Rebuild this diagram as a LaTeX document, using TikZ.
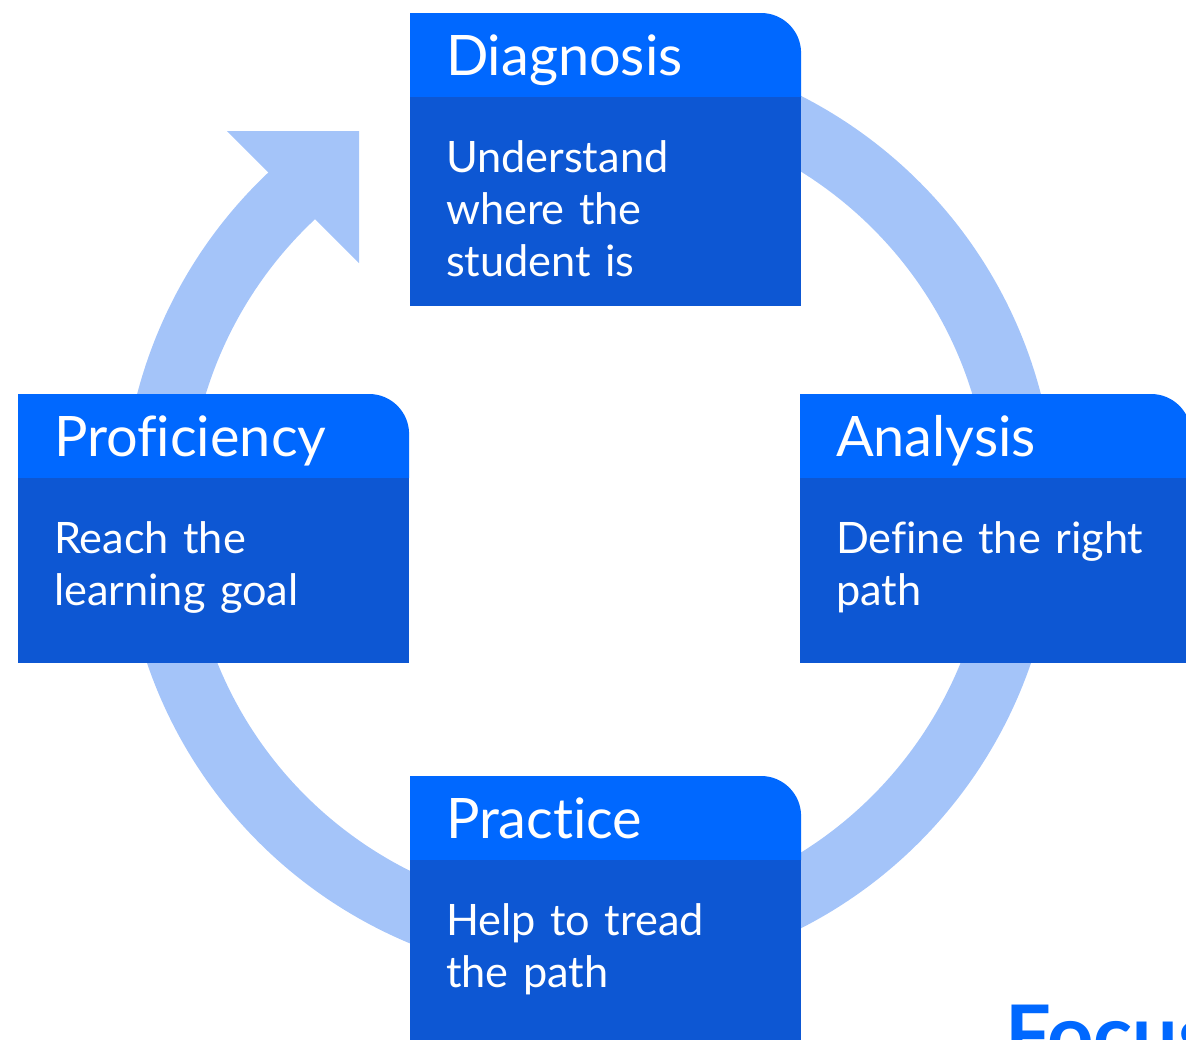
\documentclass[tikz,border=0pt]{standalone}
\usepackage{fontspec}
\setmainfont{Lato}[Ligatures=NoCommon]
\usetikzlibrary{positioning}

\definecolor{headblue}{HTML}{0068FF}
\definecolor{bodyblue}{HTML}{0D57D3}
\definecolor{ringblue}{HTML}{A4C4F9}

\tikzset{
	stagehead/.style={anchor=north west, outer sep=0pt, inner xsep=0.9cm, inner ysep=0pt,
		text width=7.975cm, text height=1.55cm, text depth=0.55cm, text=white, align=left,
		font=\fontsize{39.7}{48}\selectfont,
		path picture={\fill[headblue] (path picture bounding box.south west)
			|- ([xshift=-1cm]path picture bounding box.north east)
			arc[start angle=90, end angle=0, radius=1cm]
			-- (path picture bounding box.south east) -- cycle;}},
	stagebody/.style={below=0pt of #1, outer sep=0pt, fill=bodyblue, inner xsep=0.9cm, inner ysep=0pt,
		text width=7.975cm, text height=1.875cm, text=white, align=left,
		font=\fontsize{30.8}{37}\selectfont},
}

\begin{document}
\begin{tikzpicture}[x=0.025cm,y=-0.025cm]
		\useasboundingbox (0,0) rectangle (1186,1040);
		
		% ring with arrow
		\coordinate (ctr) at (589,512);
		\draw[ringblue, line width=1.65cm] (ctr) ++(-100:434) arc[start angle=-100, end angle=228, radius=434];
		\fill[ringblue] (227,131) -- (359,131) -- (359,263) -- cycle;
		
		% stages
		\node[stagehead] (diaghead) at (410,13) {Diagnosis};
		\node[stagebody=diaghead, text depth=3.35cm] (diagbody) {Understand\\where the\\student is};
		
		\node[stagehead] (anahead) at (800,394) {Analysis};
		\node[stagebody=anahead, text depth=2.75cm] (anabody) {Define the right\\path};
		
		\node[stagehead] (prachead) at (410,776) {Practice};
		\node[stagebody=prachead, text depth=3.125cm] (pracbody) {Help to tread\\the path};
		
		\node[stagehead] (profhead) at (18,394) {Proficiency};
		\node[stagebody=profhead, text depth=2.75cm] (profbody) {Reach the\\learning goal};
		
		\node[anchor=base west, inner sep=0pt, text=headblue, font=\fontsize{57.5}{60}\selectfont\bfseries] (focus) at (1005,1063) {Focus};
	\end{tikzpicture}
\end{document}
